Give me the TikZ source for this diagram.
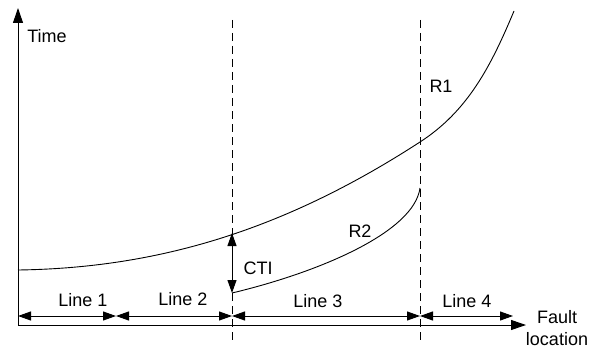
\documentclass[tikz,border=0pt]{standalone}
\usepackage{fontspec}
\setmainfont{Liberation Sans}
\usetikzlibrary{arrows.meta}
\begin{document}
\begin{tikzpicture}[x=1pt,y=-1pt,
  lbl/.style={font=\fontsize{18}{20}\selectfont, inner sep=0pt},
  axis/.style={line width=1pt, -{Triangle[length=15pt,width=10pt]}},
  dimarrow/.style={line width=1pt, {Triangle[length=13pt,width=9pt]}-{Triangle[length=13pt,width=9pt]}},
  guide/.style={line width=0.9pt, dash pattern=on 8pt off 5pt},
  curve/.style={line width=0.9pt}]
\useasboundingbox (0,0) rectangle (604,350);
% axes
\coordinate (O) at (18,325);
\coordinate (ytip) at (18,8);
\coordinate (xtip) at (526,325);
\draw[axis] (O) -- (ytip);
\draw[axis] (O) -- (xtip);
\node[lbl] (time) at (47,36) {Time};
\node[lbl, align=center, font=\fontsize{18}{22}\selectfont] (fault) at (557,328) {Fault\\location};
% guides
\coordinate (g1t) at (232,20);
\coordinate (g1b) at (232,340);
\coordinate (g2t) at (420,20);
\coordinate (g2b) at (420,340);
\draw[guide] (g1t) -- (g1b);
\draw[guide] (g2t) -- (g2b);
% curves
\coordinate (r1s) at (18,270);
\coordinate (r1m) at (420,142);
\coordinate (r1e) at (514,11);
\draw[curve] (r1s) .. controls (160,268) and (286,229) .. (r1m)
             .. controls (468,111) and (491,66) .. (r1e);
\coordinate (r2s) at (232,293);
\coordinate (r2e) at (420,188);
\draw[curve] (r2s) .. controls (320,272) and (414,232) .. (r2e);
\node[lbl] (r1) at (441,86) {R1};
\node[lbl] (r2) at (360,231) {R2};
% CTI
\coordinate (ctitop) at (232,233);
\draw[dimarrow] (ctitop) -- (r2s);
\node[lbl] (cti) at (258,268) {CTI};
% line segments
\coordinate (d0) at (18,316);
\coordinate (d1) at (116,316);
\coordinate (d2) at (232,316);
\coordinate (d3) at (420,316);
\coordinate (d4) at (513,316);
\draw[dimarrow] (d0) -- (d1);
\draw[dimarrow] (d1) -- (d2);
\draw[dimarrow] (d2) -- (d3);
\draw[dimarrow] (d3) -- (d4);
\node[lbl] (l1) at (83,300) {Line 1};
\node[lbl] (l2) at (183,299) {Line 2};
\node[lbl] (l3) at (318,301) {Line 3};
\node[lbl] (l4) at (467,301) {Line 4};
\end{tikzpicture}
\end{document}
